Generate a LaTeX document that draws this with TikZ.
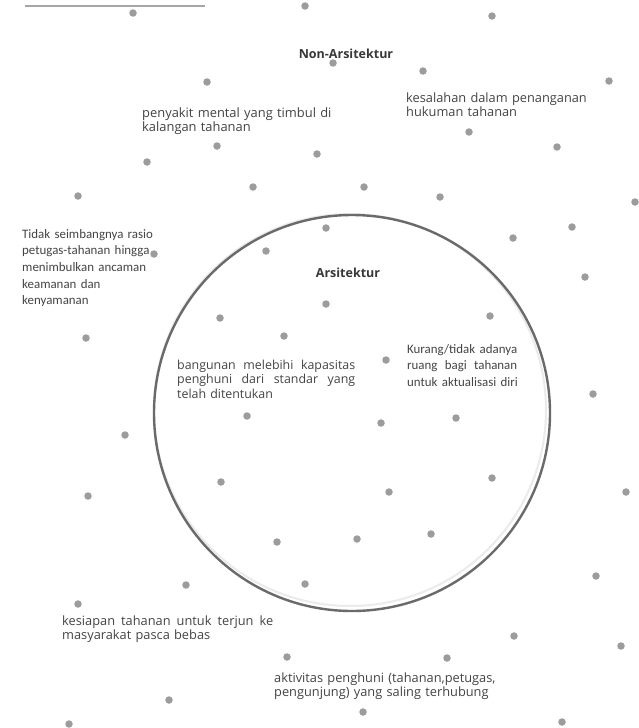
\documentclass[tikz,border=0pt]{standalone}
\usepackage{fontspec}
\setmainfont{Open Sans}
\newfontfamily\calib{Carlito}
\definecolor{txt}{HTML}{444444}
\definecolor{dotc}{HTML}{9C9C9C}
\definecolor{ringc}{HTML}{6A6A6A}
\newcommand{\jl}[2]{\leavevmode\hbox to #1{#2}}
\newcommand{\gp}{\hskip 3pt plus 1fill\relax}
\begin{document}
\begin{tikzpicture}[x=1pt,y=-1pt,
  dotm/.style={circle,fill=dotc,inner sep=0pt,minimum size=7.5pt},
  body/.style={anchor=base west,inner sep=0pt,text=txt,text width=240pt,align=left,font=\fontsize{12.8}{14.5}\selectfont},
  cal/.style={anchor=base west,inner sep=0pt,text=txt,text width=150pt,align=left,font=\calib\fontsize{12.9}{16.7}\selectfont},
  ttl/.style={anchor=base,inner sep=0pt,text=black!78,font=\bfseries\fontsize{12.5}{14}\selectfont}]
\useasboundingbox (0,0) rectangle (639,728);
\fill[white] (0,0) rectangle (639,728);
% top line
\coordinate (la) at (25,6);
\coordinate (lb) at (205,6);
\draw[gray!70,line width=1.5pt] (la) -- (lb);
% circle
\node[draw=black!8,line width=2pt,circle,minimum size=392pt,inner sep=0pt] (shadow) at (350,410) {};
\node[draw=ringc,line width=2.4pt,circle,minimum size=396pt,inner sep=0pt] (ring) at (352,413) {};
% dots
\foreach \p [count=\i] in {(133,13),(305,6),(492,16),(423,71),(333,63),(609,81),(207,82),(217,146),(147,162),(317,154),(469,132),(557,147),
(78,196),(253,187),(154,254),(266,251),(220,318),(284,336),(86,338),
(364,187),(440,197),(635,202),(326,228),(513,238),(572,227),(585,277),(326,304),(490,316),(386,360),
(247,416),(125,435),(221,482),(88,496),(277,542),(305,584),
(593,394),(381,423),(456,418),(492,478),(389,492),(626,492),(357,539),(431,534),(596,576),
(186,585),(78,604),(287,657),(169,700),(69,724),
(514,636),(621,646),(447,658),(363,712),(562,722)}
  \node[dotm] (d\i) at \p {};
% titles
\node[ttl] (nonars) at (346,58) {Non-Arsitektur};
\node[ttl] (ars) at (348,277) {Arsitektur};
% texts
\node[body] (t1) at (142,117) {\fontsize{12.9}{14.5}\selectfont penyakit mental yang timbul di\\kalangan tahanan};
\node[body] (t2) at (406,102) {kesalahan dalam penanganan\\hukuman tahanan};
\node[cal] (t3) at (22,238) {Tidak seimbangnya rasio\\petugas-tahanan hingga\\menimbulkan ancaman\\keamanan dan\\kenyamanan};
\node[cal] (t4) at (407,353) {\jl{110pt}{Kurang/tidak\gp adanya}\\\jl{110pt}{ruang\gp bagi\gp tahanan}\\untuk aktualisasi diri};
\node[body,font=\fontsize{12.4}{14.5}\selectfont] (t5) at (177,369) {\jl{178pt}{bangunan\gp melebihi\gp kapasitas}\\\jl{178pt}{penghuni\gp dari\gp standar\gp yang}\\telah ditentukan};
\node[body] (t6) at (62,625) {\jl{211pt}{kesiapan\gp tahanan\gp untuk\gp terjun\gp ke}\\masyarakat pasca bebas};
\node[body] (t7) at (274,682) {aktivitas penghuni (tahanan,petugas,\\pengunjung) yang saling terhubung};
\end{tikzpicture}
\end{document}
